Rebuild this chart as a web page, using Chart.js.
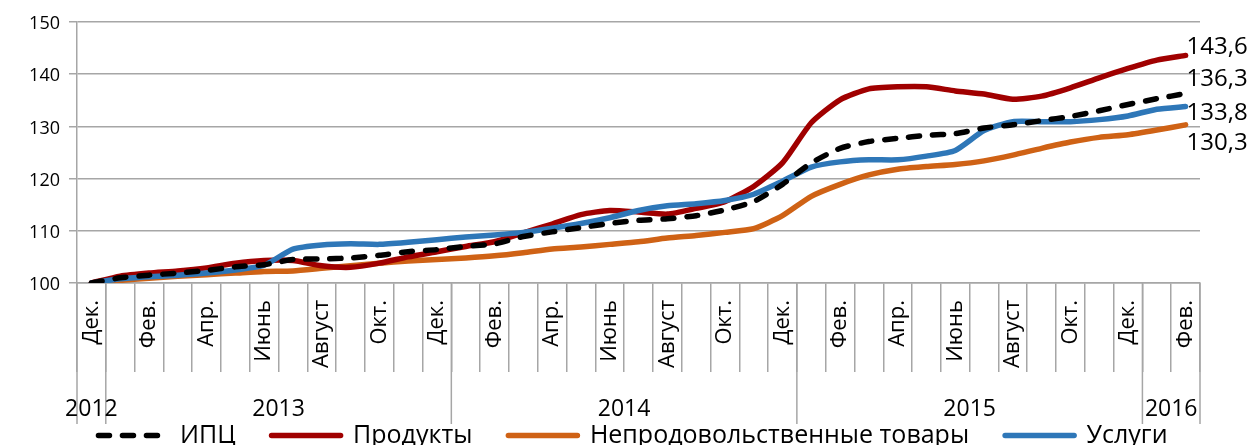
<!DOCTYPE html>
<html>
<head>
<meta charset="utf-8">
<script src="https://cdn.jsdelivr.net/npm/chart.js@4.4.0/dist/chart.umd.min.js"></script>
<style>
    html, body { margin: 0; padding: 0; background: #fff; }
    #wrap { width: 1250px; height: 445px; overflow: hidden; }
</style>
</head>
<body>
<div id="wrap"><canvas id="chart" width="1250" height="458"></canvas></div>
<script>
// months Dec 2012 .. Feb 2016
const months = [
    'Дек.',
    'Янв.', 'Фев.', 'Март', 'Апр.', 'Май', 'Июнь', 'Июль', 'Август', 'Сент.', 'Окт.', 'Нояб.', 'Дек.',
    'Янв.', 'Фев.', 'Март', 'Апр.', 'Май', 'Июнь', 'Июль', 'Август', 'Сент.', 'Окт.', 'Нояб.', 'Дек.',
    'Янв.', 'Фев.', 'Март', 'Апр.', 'Май', 'Июнь', 'Июль', 'Август', 'Сент.', 'Окт.', 'Нояб.', 'Дек.',
    'Янв.', 'Фев.'
];
const years = ['2012', '2013', '2014', '2015', '2016'];
const monthsPerYear = [1, 12, 12, 12, 2];

const cpi = [100, 101.0, 101.5, 101.9, 102.4, 103.1, 103.5, 104.5, 104.6, 104.8, 105.3, 106.0, 106.4,
    107.0, 107.5, 108.9, 109.8, 110.6, 111.4, 112.0, 112.3, 112.9, 114.0, 115.6, 118.9,
    123.0, 125.8, 127.1, 127.7, 128.3, 128.6, 129.7, 130.3, 131.1, 131.9, 133.0, 134.2,
    135.3, 136.3];
const food = [100, 101.3, 101.9, 102.3, 102.9, 103.8, 104.3, 104.3, 103.3, 103.0, 103.8, 105.0, 106.0,
    107.0, 107.9, 109.6, 111.3, 113.1, 113.9, 113.6, 113.2, 114.3, 115.6, 118.5, 123.0,
    130.7, 135.1, 137.2, 137.6, 137.6, 136.8, 136.2, 135.2, 135.8, 137.4, 139.3, 141.1,
    142.7, 143.6];
const nonfood = [100, 100.5, 100.9, 101.3, 101.6, 101.9, 102.2, 102.3, 102.8, 103.3, 103.8, 104.2, 104.5,
    104.8, 105.2, 105.8, 106.5, 106.9, 107.4, 107.9, 108.6, 109.1, 109.7, 110.4, 112.9,
    116.6, 118.9, 120.7, 121.8, 122.3, 122.7, 123.4, 124.5, 125.8, 127.0, 127.9, 128.4,
    129.3, 130.3];
const services = [100, 100.8, 101.2, 101.5, 101.9, 102.5, 103.4, 106.5, 107.3, 107.5, 107.4, 107.8, 108.3,
    108.8, 109.2, 109.7, 110.5, 111.4, 112.5, 113.9, 114.8, 115.2, 115.8, 117.0, 119.5,
    122.2, 123.2, 123.6, 123.6, 124.3, 125.4, 129.2, 130.9, 130.9, 130.9, 131.3, 132.0,
    133.3, 133.8];

const FONT = "'Open Sans', sans-serif";
const GRID = '#A6A6A6';

// month labels (every other month, rotated) and the year row under them
const categoryAxisPlugin = {
    id: 'categoryAxis',
    afterDraw(chart) {
        const ctx = chart.ctx;
        const x = chart.scales.x;
        const top = chart.chartArea.bottom;
        const step = x.getPixelForValue(1) - x.getPixelForValue(0);
        ctx.save();
        ctx.fillStyle = '#000';

        // month names, top aligned under the axis, reading upwards
        ctx.font = '22px ' + FONT;
        ctx.textAlign = 'right';
        ctx.textBaseline = 'middle';
        months.forEach((m, i) => {
            if (i % 2) return;
            ctx.save();
            ctx.translate(x.getPixelForValue(i), top + 17);
            ctx.rotate(-Math.PI / 2);
            ctx.fillText(m, 0, 0);
            ctx.restore();
        });

        // years with long separators
        ctx.strokeStyle = GRID;
        ctx.lineWidth = 1.5;
        ctx.font = '23px ' + FONT;
        ctx.textAlign = 'center';
        let start = 0;
        const edge = x.getPixelForValue(0) - step / 2;
        ctx.beginPath();
        ctx.moveTo(edge, top);
        ctx.lineTo(edge, top + 141);
        ctx.stroke();
        years.forEach((yr, k) => {
            const end = start + monthsPerYear[k] - 1;
            const left = x.getPixelForValue(start) - step / 2;
            const right = x.getPixelForValue(end) + step / 2;
            ctx.beginPath();
            ctx.moveTo(right, top);
            ctx.lineTo(right, top + 141);
            ctx.stroke();
            ctx.fillText(yr, (left + right) / 2, top + 126);
            start = end + 1;
        });
        ctx.restore();
    }
};

// values written next to the last point of each line
const endShift = [-14, -8, 18, 7];
const endLabelsPlugin = {
    id: 'endLabels',
    afterDatasetsDraw(chart) {
        const ctx = chart.ctx;
        const yScale = chart.scales.y;
        ctx.save();
        ctx.fillStyle = '#000';
        ctx.font = '24px ' + FONT;
        ctx.textAlign = 'left';
        ctx.textBaseline = 'middle';
        chart.data.datasets.forEach((ds, i) => {
            const last = ds.data.length - 1;
            const pt = chart.getDatasetMeta(i).data[last];
            const v = ds.data[last];
            ctx.fillText(v.toFixed(1).replace('.', ','), pt.x + 1, yScale.getPixelForValue(v) + endShift[i]);
        });
        ctx.restore();
    }
};

function line(label, data, color, dash, order) {
    return {
        label: label,
        data: data,
        borderColor: color,
        backgroundColor: color,
        borderWidth: 5.5,
        borderDash: dash,
        borderCapStyle: 'round',
        borderJoinStyle: 'round',
        pointRadius: 0,
        pointHoverRadius: 0,
        tension: 0.2,
        fill: false,
        order: order
    };
}

new Chart(document.getElementById('chart'), {
    type: 'line',
    data: {
        labels: months,
        datasets: [
            line('ИПЦ', cpi, '#000000', [11, 13], 0),
            line('Продукты', food, '#A00000', [], 2),
            line('Непродовольственные товары', nonfood, '#CF6215', [], 3),
            line('Услуги', services, '#2E77B8', [], 1)
        ]
    },
    options: {
        responsive: false,
        animation: false,
        devicePixelRatio: 1,
        layout: { padding: { top: 22, right: 0, left: 16, bottom: 0 } },
        plugins: {
            tooltip: { enabled: false },
            legend: {
                position: 'bottom',
                labels: {
                    usePointStyle: true,
                    pointStyle: 'line',
                    pointStyleWidth: 69,
                    boxHeight: 25,
                    padding: 36,
                    color: '#000',
                    font: { family: FONT, size: 25 },
                    sort: (a, b) => a.datasetIndex - b.datasetIndex,
                    generateLabels(chart) {
                        const items = Chart.defaults.plugins.legend.labels.generateLabels(chart);
                        items.forEach(it => {
                            const ds = chart.data.datasets[it.datasetIndex];
                            it.lineDash = ds.borderDash;
                            it.lineWidth = ds.borderWidth;
                            it.strokeStyle = ds.borderColor;
                            it.lineCap = 'round';
                        });
                        return items;
                    }
                }
            }
        },
        scales: {
            x: {
                offset: true,
                grid: {
                    offset: true,
                    drawOnChartArea: false,
                    color: GRID,
                    lineWidth: 1.5,
                    tickLength: 89
                },
                border: { color: GRID, width: 1.5 },
                ticks: { display: false, autoSkip: false },
                afterFit: (scale) => { scale.height = 104; }
            },
            y: {
                min: 100,
                max: 150,
                grid: { color: GRID, lineWidth: 1.5, tickLength: 8 },
                border: { color: GRID, width: 1.5 },
                ticks: {
                    stepSize: 10,
                    padding: 9,
                    labelOffset: 2,
                    color: '#000',
                    font: { family: FONT, size: 18 }
                },
                afterFit: (scale) => { scale.width = 61; }
            },
            // empty right-hand axis that only reserves room for the end labels
            yRight: {
                position: 'right',
                grid: { display: false },
                border: { display: false },
                ticks: { display: false },
                afterFit: (scale) => { scale.width = 50; }
            }
        }
    },
    plugins: [categoryAxisPlugin, endLabelsPlugin]
});
</script>
</body>
</html>
